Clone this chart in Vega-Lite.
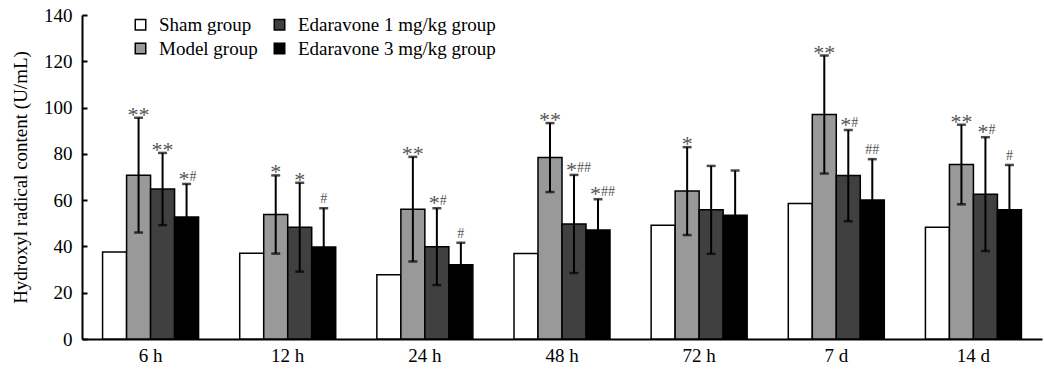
{
  "$schema": "https://vega.github.io/schema/vega-lite/v6.json",
  "width": 960,
  "height": 324,
  "autosize": {"type": "none"},
  "padding": {"left": 82, "top": 15, "right": 2, "bottom": 34},
  "config": {
    "view": {"stroke": null},
    "font": "Liberation Serif",
    "axis": {"grid": false, "domainColor": "black", "domainWidth": 2, "tickColor": "black", "tickWidth": 2, "labelColor": "black", "titleColor": "black", "labelFont": "Liberation Serif", "titleFont": "Liberation Serif"},
    "legend": {"labelFont": "Liberation Serif"}
  },
  "data": {
    "values": [
      {"time": "6 h", "group": "Sham group", "mean": 37.6, "sd": null, "star": "", "hash": ""},
      {"time": "6 h", "group": "Model group", "mean": 70.8, "sd": 24.8, "star": "**", "hash": ""},
      {"time": "6 h", "group": "Edaravone 1 mg/kg group", "mean": 64.8, "sd": 15.6, "star": "**", "hash": ""},
      {"time": "6 h", "group": "Edaravone 3 mg/kg group", "mean": 52.7, "sd": 14.3, "star": "*", "hash": "#"},
      {"time": "12 h", "group": "Sham group", "mean": 37.1, "sd": null, "star": "", "hash": ""},
      {"time": "12 h", "group": "Model group", "mean": 53.8, "sd": 16.9, "star": "*", "hash": ""},
      {"time": "12 h", "group": "Edaravone 1 mg/kg group", "mean": 48.3, "sd": 19.2, "star": "*", "hash": ""},
      {"time": "12 h", "group": "Edaravone 3 mg/kg group", "mean": 39.7, "sd": 16.8, "star": "", "hash": "#"},
      {"time": "24 h", "group": "Sham group", "mean": 27.8, "sd": null, "star": "", "hash": ""},
      {"time": "24 h", "group": "Model group", "mean": 56.1, "sd": 22.6, "star": "**", "hash": ""},
      {"time": "24 h", "group": "Edaravone 1 mg/kg group", "mean": 39.9, "sd": 16.6, "star": "*", "hash": "#"},
      {"time": "24 h", "group": "Edaravone 3 mg/kg group", "mean": 32.1, "sd": 9.5, "star": "", "hash": "#"},
      {"time": "48 h", "group": "Sham group", "mean": 36.9, "sd": null, "star": "", "hash": ""},
      {"time": "48 h", "group": "Model group", "mean": 78.4, "sd": 14.9, "star": "**", "hash": ""},
      {"time": "48 h", "group": "Edaravone 1 mg/kg group", "mean": 49.7, "sd": 21.2, "star": "*", "hash": "##"},
      {"time": "48 h", "group": "Edaravone 3 mg/kg group", "mean": 47.1, "sd": 13.3, "star": "*", "hash": "##"},
      {"time": "72 h", "group": "Sham group", "mean": 49.2, "sd": null, "star": "", "hash": ""},
      {"time": "72 h", "group": "Model group", "mean": 63.9, "sd": 19.0, "star": "*", "hash": ""},
      {"time": "72 h", "group": "Edaravone 1 mg/kg group", "mean": 55.8, "sd": 19.0, "star": "", "hash": ""},
      {"time": "72 h", "group": "Edaravone 3 mg/kg group", "mean": 53.5, "sd": 19.3, "star": "", "hash": ""},
      {"time": "7 d", "group": "Sham group", "mean": 58.5, "sd": null, "star": "", "hash": ""},
      {"time": "7 d", "group": "Model group", "mean": 97.0, "sd": 25.5, "star": "**", "hash": ""},
      {"time": "7 d", "group": "Edaravone 1 mg/kg group", "mean": 70.6, "sd": 19.7, "star": "*", "hash": "#"},
      {"time": "7 d", "group": "Edaravone 3 mg/kg group", "mean": 60.1, "sd": 17.6, "star": "", "hash": "##"},
      {"time": "14 d", "group": "Sham group", "mean": 48.3, "sd": null, "star": "", "hash": ""},
      {"time": "14 d", "group": "Model group", "mean": 75.4, "sd": 17.2, "star": "**", "hash": ""},
      {"time": "14 d", "group": "Edaravone 1 mg/kg group", "mean": 62.6, "sd": 24.6, "star": "*", "hash": "#"},
      {"time": "14 d", "group": "Edaravone 3 mg/kg group", "mean": 55.8, "sd": 19.4, "star": "", "hash": "#"}
    ]
  },
  "encoding": {
    "x": {
      "field": "time", "type": "nominal",
      "sort": ["6 h", "12 h", "24 h", "48 h", "72 h", "7 d", "14 d"],
      "scale": {"paddingInner": 0.3, "paddingOuter": 0.15},
      "axis": {"title": null, "labelAngle": 0, "ticks": false, "labelFontSize": 19, "labelPadding": 7}
    },
    "xOffset": {
      "field": "group", "type": "nominal",
      "scale": {"domain": ["Sham group", "Model group", "Edaravone 1 mg/kg group", "Edaravone 3 mg/kg group"], "paddingInner": 0, "paddingOuter": 0}
    }
  },
  "layer": [
    {
      "mark": {"type": "bar", "stroke": "black", "strokeWidth": 1.5},
      "encoding": {
        "y": {
          "field": "mean", "type": "quantitative",
          "scale": {"domain": [0, 140]},
          "axis": {"title": "Hydroxyl radical content (U/mL)", "titleFontSize": 19, "titleFontWeight": "normal", "labelFontSize": 19, "values": [0, 20, 40, 60, 80, 100, 120, 140], "tickSize": -5, "labelPadding": 15, "titlePadding": 13}
        },
        "color": {
          "field": "group", "type": "nominal",
          "scale": {"domain": ["Sham group", "Model group", "Edaravone 1 mg/kg group", "Edaravone 3 mg/kg group"], "range": ["#ffffff", "#999999", "#404040", "#000000"]},
          "legend": {"title": null, "orient": "none", "legendX": 49, "legendY": 0, "columns": 2, "symbolType": "square", "symbolSize": 110, "symbolStrokeColor": "black", "symbolStrokeWidth": 1.5, "labelFontSize": 19, "labelLimit": 400, "labelColor": "black", "rowPadding": 4, "columnPadding": 12, "labelOffset": 9}
        }
      }
    },
    {
      "transform": [{"filter": "datum.sd != null"}, {"calculate": "datum.mean - datum.sd", "as": "lo"}, {"calculate": "datum.mean + datum.sd", "as": "hi"}],
      "layer": [
        {
          "mark": {"type": "rule", "color": "black", "strokeWidth": 2},
          "encoding": {"y": {"field": "lo", "type": "quantitative"}, "y2": {"field": "hi"}}
        },
        {
          "mark": {"type": "tick", "color": "black", "thickness": 2.5, "size": 9},
          "encoding": {"y": {"field": "hi", "type": "quantitative"}}
        },
        {
          "mark": {"type": "tick", "color": "black", "thickness": 2.5, "size": 9},
          "encoding": {"y": {"field": "lo", "type": "quantitative"}}
        },
        {
          "transform": [{"filter": "datum.star != '' && datum.hash == ''"}],
          "mark": {"type": "text", "fontSize": 22, "color": "#555555", "baseline": "alphabetic", "dy": 4},
          "encoding": {"y": {"field": "hi", "type": "quantitative"}, "text": {"field": "star"}}
        },
        {
          "transform": [{"filter": "datum.star != '' && datum.hash != ''"}],
          "mark": {"type": "text", "fontSize": 22, "color": "#555555", "baseline": "alphabetic", "align": "right", "dx": 3, "dy": 2},
          "encoding": {"y": {"field": "hi", "type": "quantitative"}, "text": {"field": "star"}}
        },
        {
          "transform": [{"filter": "datum.star != '' && datum.hash != ''"}],
          "mark": {"type": "text", "fontSize": 14, "color": "#555555", "baseline": "alphabetic", "align": "left", "dx": 3, "dy": -3},
          "encoding": {"y": {"field": "hi", "type": "quantitative"}, "text": {"field": "hash"}}
        },
        {
          "transform": [{"filter": "datum.star == '' && datum.hash != ''"}],
          "mark": {"type": "text", "fontSize": 14, "color": "#555555", "baseline": "alphabetic", "align": "center", "dy": -5},
          "encoding": {"y": {"field": "hi", "type": "quantitative"}, "text": {"field": "hash"}}
        }
      ]
    }
  ]
}
